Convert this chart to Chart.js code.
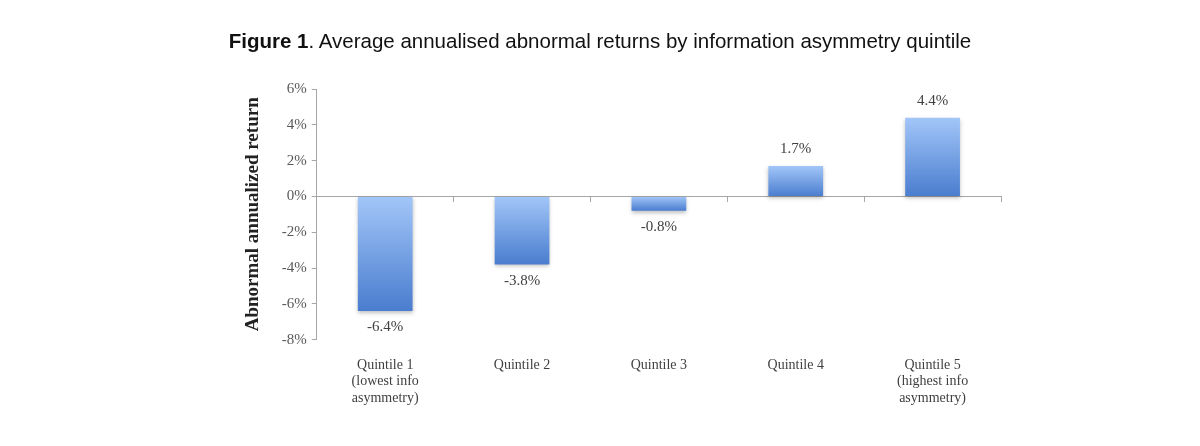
<!DOCTYPE html>
<html>
<head>
<meta charset="utf-8">
<script src="https://cdn.jsdelivr.net/npm/chart.js@4"></script>
<style>
  body { margin: 0; background: #fff; }
  #wrap { position: relative; width: 1200px; height: 446px; }
  #titulo {
    position: absolute; left: 0; top: 29px; width: 1200px; text-align: center;
    font-family: "Liberation Sans", Arial, sans-serif; font-size: 20.5px; color: #111;
  }
</style>
</head>
<body>
<div id="wrap">
  <div id="titulo"><b>Figure 1</b>. Average annualised abnormal returns by information asymmetry quintile</div>
  <canvas id="grafico" width="1200" height="446"></canvas>
</div>
<script>
// Dados do gráfico
const categorias = [
    ["Quintile 1", "(lowest info", "asymmetry)"],
    ["Quintile 2"],
    ["Quintile 3"],
    ["Quintile 4"],
    ["Quintile 5", "(highest info", "asymmetry)"]
];
const retornos = [-6.4, -3.8, -0.8, 1.7, 4.4];
const ticksY = [-8, -6, -4, -2, 0, 2, 4, 6];

const corEixo = "#a6a6a6";
const fonteSerif = "'Liberation Serif', 'DejaVu Serif', serif";

// Gradiente vertical de cada barra (claro em cima, escuro em baixo)
function gradienteBarra(ctx) {
    const chart = ctx.chart;
    if (!chart.chartArea) return "#6f9fe6";
    const y = chart.scales.y;
    const v = ctx.raw;
    const topo = y.getPixelForValue(Math.max(v, 0));
    const base = y.getPixelForValue(Math.min(v, 0));
    const g = chart.ctx.createLinearGradient(0, topo, 0, base);
    g.addColorStop(0, "#a2c6f8");
    g.addColorStop(1, "#4a7dcf");
    return g;
}

// Sombra leve por baixo das barras
const sombraPlugin = {
    id: "sombra",
    beforeDatasetDraw(chart) {
        const c = chart.ctx;
        c.save();
        c.shadowColor = "rgba(0,0,0,0.25)";
        c.shadowBlur = 4;
        c.shadowOffsetY = 2;
    },
    afterDatasetDraw(chart) {
        chart.ctx.restore();
    }
};

// Rótulos de valor acima/abaixo das barras
const rotulosPlugin = {
    id: "rotulos",
    afterDatasetsDraw(chart) {
        const c = chart.ctx;
        const meta = chart.getDatasetMeta(0);
        c.save();
        c.font = "15px " + fonteSerif;
        c.fillStyle = "#404040";
        c.textAlign = "center";
        meta.data.forEach((bar, i) => {
            const v = retornos[i];
            const txt = v.toFixed(1) + "%";
            if (v >= 0) {
                c.textBaseline = "bottom";
                c.fillText(txt, bar.x, bar.y - 9);
            } else {
                c.textBaseline = "top";
                c.fillText(txt, bar.x, bar.y + 9);
            }
        });
        c.restore();
    }
};

new Chart(document.getElementById("grafico"), {
    type: "bar",
    data: {
        labels: categorias.map(c => c.join(" ")),
        datasets: [{
            data: retornos,
            backgroundColor: gradienteBarra,
            borderWidth: 0,
            categoryPercentage: 0.4,
            barPercentage: 1
        }]
    },
    options: {
        responsive: false,
        animation: false,
        layout: { padding: { top: 89, left: 238, right: 199, bottom: 30 } },
        plugins: {
            legend: { display: false },
            tooltip: { enabled: false }
        },
        scales: {
            x: {
                type: "category",
                position: { y: 0 },
                offset: true,
                grid: { offset: true, drawOnChartArea: false, color: corEixo, tickLength: 5 },
                border: { color: corEixo },
                ticks: { display: false }
            },
            x2: {
                type: "category",
                labels: categorias,
                position: "bottom",
                offset: true,
                grid: { display: false },
                border: { display: false },
                ticks: {
                    font: { family: fonteSerif, size: 14 },
                    color: "#404040",
                    maxRotation: 0,
                    padding: 9
                }
            },
            y: {
                min: -8,
                max: 6,
                afterBuildTicks(axis) {
                    axis.ticks = ticksY.map(v => ({ value: v }));
                },
                grid: { drawOnChartArea: false, color: corEixo, tickLength: 5 },
                border: { color: corEixo },
                ticks: {
                    callback: v => v + "%",
                    font: { family: fonteSerif, size: 15 },
                    color: "#595959",
                    padding: 5
                },
                title: {
                    display: true,
                    text: "Abnormal annualized return",
                    font: { family: fonteSerif, size: 19, weight: "bold" },
                    color: "#222",
                    padding: { top: 4, bottom: 12 }
                }
            }
        }
    },
    plugins: [sombraPlugin, rotulosPlugin]
});
</script>
</body>
</html>
